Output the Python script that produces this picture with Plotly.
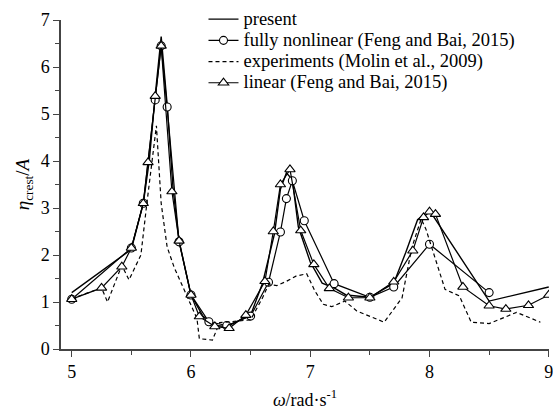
import plotly.graph_objects as go

# ---- data ----
omega_present = [5.0, 5.5, 5.6, 5.65, 5.7, 5.75, 5.8, 5.85, 5.9, 6.0, 6.1, 6.2, 6.3, 6.4, 6.5,
                 6.6, 6.7, 6.75, 6.8, 6.85, 6.9, 7.0, 7.1, 7.2, 7.3, 7.5, 7.7, 7.8, 7.9, 8.0, 8.5, 9.0]
present = [1.2, 2.12, 3.1, 4.0, 5.4, 6.65, 5.2, 3.4, 2.3, 1.15, 0.7, 0.5, 0.48, 0.6, 0.72,
           1.4, 2.45, 3.4, 3.75, 3.6, 2.6, 1.85, 1.4, 1.3, 1.15, 1.1, 1.4, 2.05, 2.75, 2.95, 1.02, 1.32]

omega_fnl = [5.0, 5.5, 5.6, 5.7, 5.75, 5.8, 5.9, 6.0, 6.15, 6.3, 6.5, 6.65, 6.75, 6.8, 6.85,
             6.95, 7.2, 7.5, 7.7, 8.0, 8.5]
fnl = [1.06, 2.15, 3.1, 5.3, 6.45, 5.15, 2.28, 1.15, 0.58, 0.5, 0.7, 1.42, 2.49, 3.2, 3.58,
       2.73, 1.39, 1.1, 1.32, 2.23, 1.2]

omega_exp = [5.0, 5.25, 5.3, 5.42, 5.48, 5.58, 5.63, 5.71, 5.75, 5.8, 5.86, 5.96, 6.05, 6.07,
             6.18, 6.24, 6.5, 6.6, 6.65, 6.72, 6.8, 6.88, 6.97, 7.04, 7.11, 7.18, 7.29, 7.39,
             7.62, 7.77, 7.85, 7.93, 7.97, 8.13, 8.25, 8.35, 8.5, 8.73, 8.93]
experiments = [1.07, 1.3, 1.0, 1.78, 1.47, 2.0, 3.1, 4.75, 3.1, 2.17, 1.73, 1.17, 0.65, 0.22,
               0.19, 0.56, 0.62, 1.09, 1.37, 1.35, 1.44, 1.55, 1.6, 1.23, 0.95, 0.9, 1.02, 0.81,
               0.57, 1.09, 2.14, 2.77, 2.55, 1.27, 1.13, 0.57, 0.54, 0.78, 0.57]

omega_lin = [5.0, 5.25, 5.42, 5.5, 5.6, 5.64, 5.7, 5.75, 5.84, 5.9, 6.0, 6.07, 6.2, 6.32, 6.46,
             6.62, 6.69, 6.75, 6.83, 6.92, 7.03, 7.16, 7.32, 7.5, 7.7, 7.86, 7.95, 8.0, 8.05,
             8.28, 8.5, 8.64, 8.83, 9.0]
linear = [1.06, 1.3, 1.75, 2.15, 3.1, 3.97, 5.38, 6.45, 3.35, 2.3, 1.15, 0.69, 0.48, 0.44, 0.72,
          1.44, 2.5, 3.5, 3.82, 2.52, 1.8, 1.29, 1.09, 1.09, 1.43, 2.09, 2.8, 2.92, 2.87,
          1.32, 0.92, 0.85, 0.93, 1.15]

series_names = ["present", "fully nonlinear (Feng and Bai, 2015)",
                "experiments (Molin et al., 2009)", "linear (Feng and Bai, 2015)"]

x_ticks = [5, 6, 7, 8, 9]
y_ticks = [0, 1, 2, 3, 4, 5, 6, 7]

FONT = "'Times New Roman', 'Liberation Serif', 'DejaVu Serif', serif"


def leg(name):
    # larger visible text while keeping compact legend rows
    return '<span style="font-size:18.5px">' + name + '</span>'


fig = go.Figure()
fig.add_trace(go.Scatter(x=omega_present, y=present, mode="lines", name=leg(series_names[0]),
                         line=dict(color="black", width=1.4)))
fig.add_trace(go.Scatter(x=omega_fnl, y=fnl, mode="lines+markers",
                         name=leg(series_names[1]),
                         line=dict(color="black", width=1.2),
                         marker=dict(symbol="circle", size=8, color="white",
                                     line=dict(color="black", width=1.1))))
fig.add_trace(go.Scatter(x=omega_exp, y=experiments, mode="lines",
                         name=leg(series_names[2]),
                         line=dict(color="black", width=1.2, dash="4px,3px")))
fig.add_trace(go.Scatter(x=omega_lin, y=linear, mode="lines+markers",
                         name=leg(series_names[3]),
                         line=dict(color="black", width=1.2),
                         marker=dict(symbol="triangle-up", size=9, color="white",
                                     line=dict(color="black", width=1.1))))

fig.update_layout(
    width=553, height=411,
    margin=dict(l=61, r=4, t=14, b=62),
    paper_bgcolor="white", plot_bgcolor="white",
    font=dict(family=FONT, size=18, color="black"),
    legend=dict(x=0.292, y=1.05, xanchor="left", yanchor="top",
                bgcolor="rgba(0,0,0,0)", font=dict(family=FONT, size=14),
                tracegroupgap=0, itemwidth=30),
    showlegend=True,
)
fig.update_xaxes(
    range=[4.91, 9.002], tickvals=x_ticks, ticktext=[str(v) for v in x_ticks],
    ticklabeloverflow="allow", automargin=False,
    showline=True, linecolor="#444", linewidth=1.5, mirror=False,
    ticks="outside", ticklen=6, tickwidth=1.3, tickcolor="#444",
    minor=dict(dtick=0.5, ticks="outside", ticklen=4, tickwidth=1.2, tickcolor="#444"),
    showgrid=False, zeroline=False,
    title=dict(text="<i>ω</i>/rad·s<sup>-1</sup>", font=dict(family=FONT, size=18), standoff=12),
)
fig.update_yaxes(
    range=[0, 7], tickvals=y_ticks, ticktext=[str(v) for v in y_ticks],
    automargin=False,
    showline=True, linecolor="#444", linewidth=1.5, mirror=False,
    ticks="outside", ticklen=6, tickwidth=1.3, tickcolor="#444",
    minor=dict(dtick=0.5, ticks="outside", ticklen=4, tickwidth=1.2, tickcolor="#444"),
    showgrid=False, zeroline=False,
    title=dict(text="<i>η</i><sub>crest</sub>/<i>A</i>", font=dict(family=FONT, size=19), standoff=6),
)

fig.write_html("out.html")
